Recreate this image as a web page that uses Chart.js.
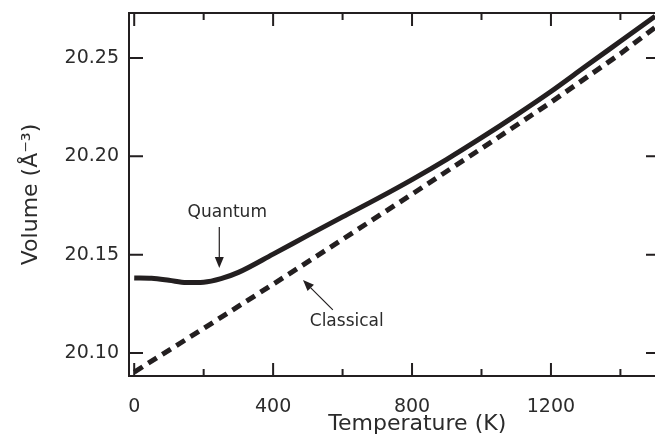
<!DOCTYPE html>
<html>
<head>
<meta charset="utf-8">
<script src="https://cdn.jsdelivr.net/npm/chart.js@4/dist/chart.umd.min.js"></script>
<style>
  html, body { margin: 0; padding: 0; background: #fff; overflow: hidden; }
  #wrap { width: 660px; height: 438px; }
</style>
</head>
<body>
<div id="wrap"><canvas id="volChart" width="660" height="438"></canvas></div>
<script>
// values
const quantumT = [0, 50, 100, 150, 200, 250, 300, 400, 500, 600, 700, 800, 900, 1000, 1100, 1200, 1300, 1400, 1500];
const quantumV = [20.1382, 20.1380, 20.1370, 20.1358, 20.1360, 20.1378, 20.1410, 20.1503, 20.1598, 20.1692,
                  20.1785, 20.1882, 20.1985, 20.2095, 20.2210, 20.2330, 20.2458, 20.2585, 20.2712];
const classicalT = [0, 200, 400, 600, 800, 1000, 1200, 1400, 1500];
const classicalV = [20.0903, 20.1125, 20.1350, 20.1578, 20.1808, 20.2040, 20.2275, 20.2522, 20.2655];

const xTicks = [0, 200, 400, 600, 800, 1000, 1200, 1400];
const yTicks = [20.10, 20.15, 20.20, 20.25];

// annotation labels and arrows, in data units
const notes = [
  { text: 'Quantum', at: [268, 20.1712], from: [245, 20.1641], to: [245, 20.1432] },
  { text: 'Classical', at: [612, 20.1162], from: [572, 20.1219], to: [486, 20.1371] }
];

const ink = '#231f20';
const txt = '#2b2b2b';
const fam = '"DejaVu Sans", sans-serif';

const toPts = (xs, ys) => xs.map((t, i) => ({ x: t, y: ys[i] }));

const frame = {
  id: 'frame',
  afterDraw(chart) {
    const { ctx, chartArea: a, scales: { x, y } } = chart;
    ctx.save();
    ctx.strokeStyle = ink;
    ctx.lineWidth = 2;
    ctx.lineCap = 'butt';
    ctx.beginPath();
    ctx.moveTo(a.right, a.top);
    ctx.lineTo(a.left, a.top);
    ctx.lineTo(a.left, a.bottom);
    ctx.lineTo(a.right, a.bottom);
    ctx.stroke();

    ctx.beginPath();
    xTicks.forEach(v => {
      const px = x.getPixelForValue(v);
      const len = v % 400 === 0 ? 13 : 7;
      ctx.moveTo(px, a.bottom); ctx.lineTo(px, a.bottom - len);
      ctx.moveTo(px, a.top); ctx.lineTo(px, a.top + len);
    });
    yTicks.forEach(v => {
      const py = y.getPixelForValue(v);
      ctx.moveTo(a.left, py); ctx.lineTo(a.left + 14, py);
      ctx.moveTo(a.right, py); ctx.lineTo(a.right - 14, py);
    });
    ctx.stroke();

    // arrows + labels
    ctx.font = '17px ' + fam;
    ctx.textAlign = 'center';
    ctx.textBaseline = 'middle';
    notes.forEach(n => {
      ctx.fillStyle = txt;
      ctx.fillText(n.text, x.getPixelForValue(n.at[0]), y.getPixelForValue(n.at[1]));
      const x0 = x.getPixelForValue(n.from[0]), y0 = y.getPixelForValue(n.from[1]);
      const x1 = x.getPixelForValue(n.to[0]), y1 = y.getPixelForValue(n.to[1]);
      const ang = Math.atan2(y1 - y0, x1 - x0);
      const hl = 11, hw = 4.5;
      ctx.lineWidth = 1.2;
      ctx.beginPath();
      ctx.moveTo(x0, y0);
      ctx.lineTo(x1 - Math.cos(ang) * hl, y1 - Math.sin(ang) * hl);
      ctx.stroke();
      ctx.fillStyle = ink;
      ctx.beginPath();
      ctx.moveTo(x1, y1);
      ctx.lineTo(x1 - Math.cos(ang) * hl - Math.sin(ang) * hw, y1 - Math.sin(ang) * hl + Math.cos(ang) * hw);
      ctx.lineTo(x1 - Math.cos(ang) * hl + Math.sin(ang) * hw, y1 - Math.sin(ang) * hl - Math.cos(ang) * hw);
      ctx.closePath();
      ctx.fill();
    });

    // x axis title
    ctx.fillStyle = txt;
    ctx.font = '22px ' + fam;
    ctx.fillText('Temperature (K)', x.getPixelForValue(815), 424);
    ctx.restore();
  }
};

new Chart(document.getElementById('volChart'), {
  type: 'line',
  data: {
    datasets: [
      {
        label: 'Quantum',
        data: toPts(quantumT, quantumV),
        borderColor: ink,
        borderWidth: 5,
        pointRadius: 0,
        cubicInterpolationMode: 'monotone',
        fill: false
      },
      {
        label: 'Classical',
        data: toPts(classicalT, classicalV),
        borderColor: ink,
        borderWidth: 5,
        borderDash: [10, 6.6],
        borderCapStyle: 'butt',
        pointRadius: 0,
        tension: 0,
        fill: false
      }
    ]
  },
  options: {
    responsive: false,
    animation: false,
    layout: { padding: { top: 13, right: 0, left: 0, bottom: 0 } },
    plugins: { legend: { display: false }, tooltip: { enabled: false } },
    scales: {
      x: {
        type: 'linear',
        min: -15,
        max: 1514,
        grid: { display: false, drawTicks: false },
        border: { display: false },
        afterBuildTicks: s => { s.ticks = xTicks.map(v => ({ value: v })); },
        afterFit: s => { s.height = 62; s.paddingLeft = 0; s.paddingRight = 0; },
        ticks: {
          padding: 20,
          color: txt,
          font: { family: fam, size: 19 },
          maxRotation: 0,
          autoSkip: false,
          callback: v => (v % 400 === 0 ? String(v) : '')
        }
      },
      y: {
        min: 20.0883,
        max: 20.2729,
        grid: { display: false, drawTicks: false },
        border: { display: false },
        afterBuildTicks: s => { s.ticks = yTicks.map(v => ({ value: v })); },
        afterFit: s => { s.width = 129; s.paddingTop = 0; s.paddingBottom = 0; },
        ticks: {
          padding: 10,
          color: txt,
          font: { family: fam, size: 19 },
          callback: v => v.toFixed(2)
        },
        title: {
          display: true,
          text: 'Volume (Å⁻³)',
          color: txt,
          font: { family: fam, size: 22 },
          padding: { top: 18, bottom: 0 }
        }
      }
    }
  },
  plugins: [frame]
});
</script>
</body>
</html>
